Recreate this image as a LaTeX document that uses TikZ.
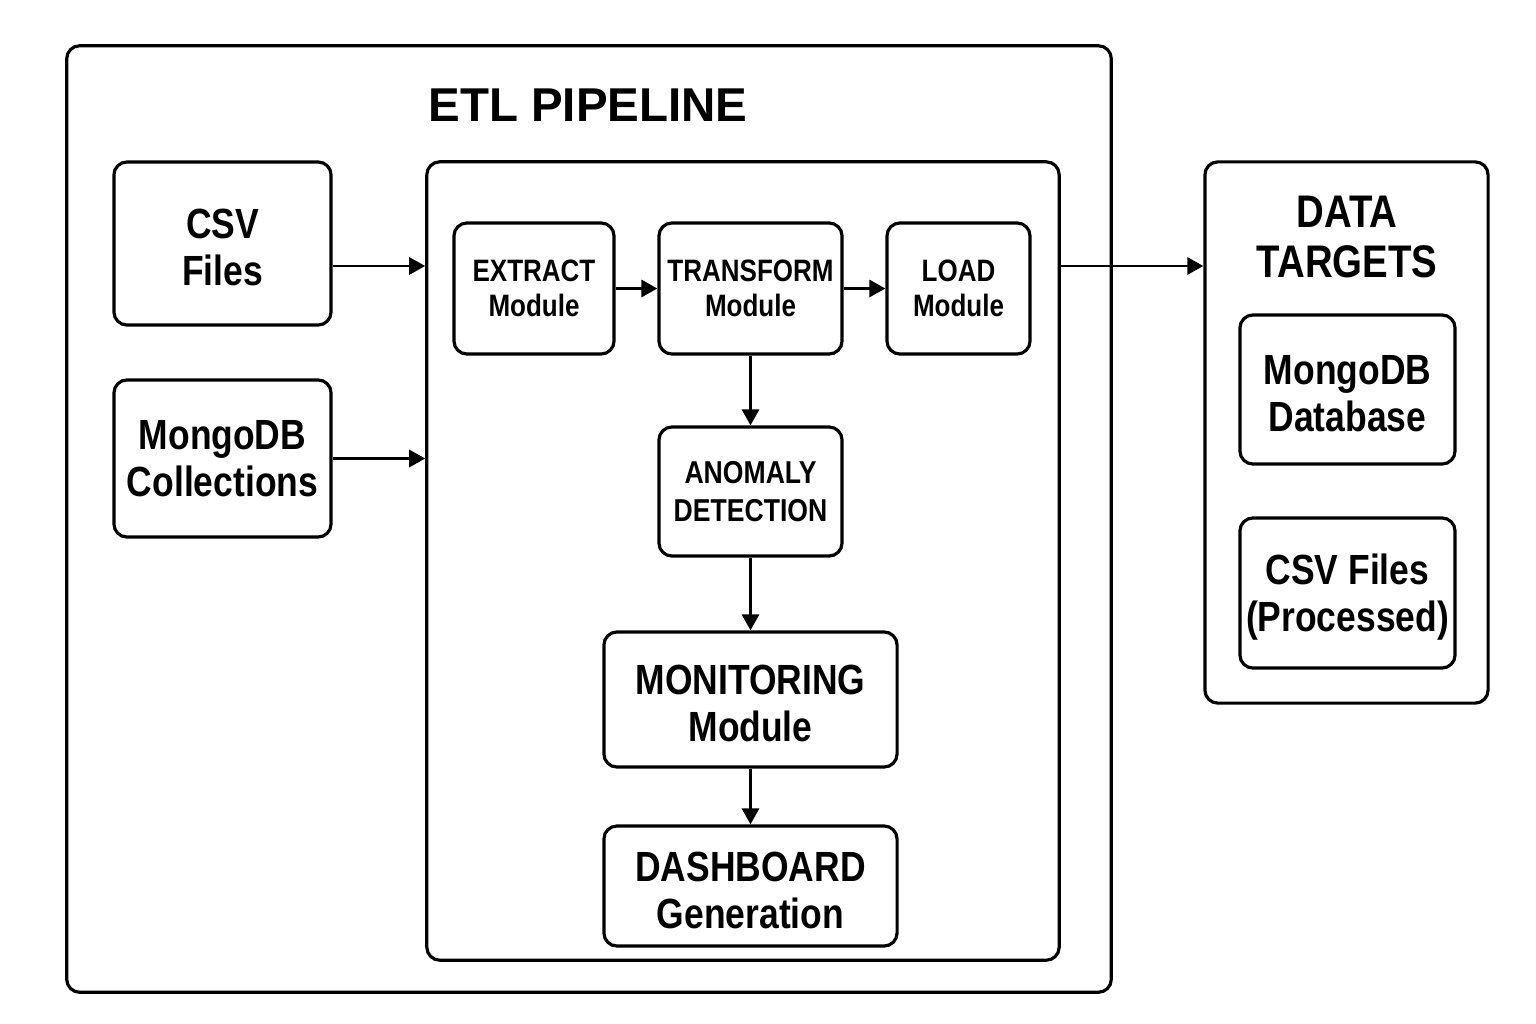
\documentclass[tikz,border=0pt]{standalone}
\usepackage{fontspec}
\setmainfont{Liberation Sans}
\newfontfamily\narrowsans{Liberation Sans}[FakeStretch=0.84]
\newcommand\lift{\rule{0pt}{10.8pt}}
\usetikzlibrary{arrows.meta}
\usetikzlibrary{positioning}
\usetikzlibrary{calc}

\begin{document}
\begin{tikzpicture}[x=0.01cm, y=-0.01cm, >={Triangle[length=1.6mm,width=1.7mm]},
  line width=0.85pt, black, text=black,
  frame/.style={rectangle,rounded corners=1.3mm,draw,line width=0.9pt,inner sep=0pt},
  module/.style={frame,align=center,font=\narrowsans\bfseries\fontsize{8.8}{10}\selectfont},
  bigmodule/.style={frame,align=center,font=\narrowsans\bfseries\fontsize{12}{13.4}\selectfont},
  heading/.style={align=center,inner sep=0pt,font=\narrowsans\bfseries\fontsize{13}{14}\selectfont}]

  \useasboundingbox (0,0) rectangle (1536,1024);

  \node[frame, minimum width=10.44cm, minimum height=9.46cm] (etl) at (589,519) {};
  \node[frame, minimum width=6.32cm, minimum height=7.98cm] (pipe) at (743,561) {};
  \node[frame, minimum width=2.83cm, minimum height=5.41cm] (targets) at (1346.5,432.5) {};

  \node[heading, font=\bfseries\fontsize{13.5}{16}\selectfont] (etltitle) at (588,105) {ETL PIPELINE};
  \node[heading] (targettitle) at (1347,237) {DATA\\TARGETS};

  \node[bigmodule, minimum width=2.17cm, minimum height=1.63cm] (csv) at (222.5,243.5) {\lift CSV\\Files};
  \node[bigmodule, minimum width=2.17cm, minimum height=1.57cm] (mongo) at (222.5,458.5) {MongoDB\\Collections};

  \node[module, minimum width=1.60cm, minimum height=1.31cm] (extract) at (534,288.5) {EXTRACT\\Module};
  \node[module, minimum width=1.83cm, minimum height=1.31cm] (transform) at (750.5,288.5) {TRANSFORM\\Module};
  \node[module, minimum width=1.43cm, minimum height=1.31cm] (load) at (958.5,288.5) {LOAD\\Module};
  \node[module, font=\narrowsans\bfseries\fontsize{9}{10.6}\selectfont,
        minimum width=1.83cm, minimum height=1.29cm] (anomaly) at (750.5,491.5) {ANOMALY\\DETECTION};
  \node[bigmodule, minimum width=2.93cm, minimum height=1.35cm] (monitor) at (750.5,699.5) {\lift MONITORING\\Module};
  \node[bigmodule, minimum width=2.93cm, minimum height=1.20cm] (dashboard) at (750.5,886) {\lift DASHBOARD\\Generation};

  \node[bigmodule, minimum width=2.15cm, minimum height=1.49cm] (mongodb) at (1347.5,389.5) {\lift MongoDB\\Database};
  \node[bigmodule, minimum width=2.15cm, minimum height=1.50cm] (csvout) at (1347.5,593) {\lift CSV Files\\(Processed)};

  \coordinate (csvport) at ($(csv.east)+(0,22.5)$);

  \draw[->] (csvport) -- (csvport -| pipe.west);
  \draw[->] (mongo.east) -- (mongo.east -| pipe.west);
  \draw[->] (extract) -- (transform);
  \draw[->] (transform) -- (load);
  \draw[->] (transform) -- (anomaly);
  \draw[->] (anomaly) -- (monitor);
  \draw[->] (monitor) -- (dashboard);
  \draw[->] (pipe.east |- csvport) -- (targets.west |- csvport);
\end{tikzpicture}
\end{document}
